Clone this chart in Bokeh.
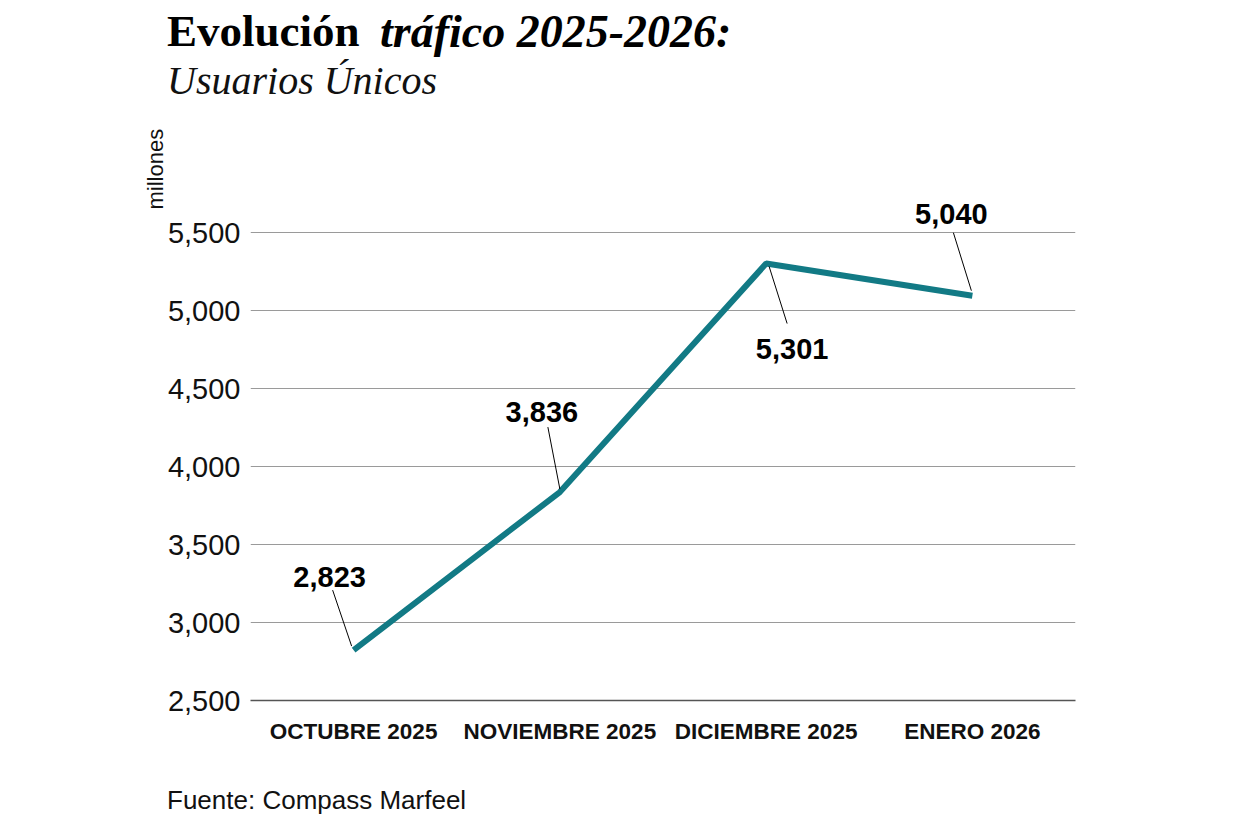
from bokeh.plotting import figure
from bokeh.models import Range1d, FixedTicker, NumeralTickFormatter, Title, ColumnDataSource, Div
from bokeh.layouts import column
from bokeh.core.properties import value
from bokeh.embed import file_html
from bokeh.resources import INLINE

# ---- data ----
months = ["OCTUBRE 2025", "NOVIEMBRE 2025", "DICIEMBRE 2025", "ENERO 2026"]
users = [2823, 3836, 5301, 5095]          # plotted positions (millones)
value_labels = ["2,823", "3,836", "5,301", "5,040"]
y_ticks = [2500, 3000, 3500, 4000, 4500, 5000, 5500]
title_main = "Evolución"
title_italic = "tráfico 2025-2026:"
subtitle = "Usuarios Únicos"
unit_label = "millones"
source_note = "Fuente: Compass Marfeel"

# ---- style: label / leader offsets in pixels (dx right, dy up) ----
lead_start = [(-2, 4), (0, 3), (3, -3), (-1, 5)]
lead_end = [(-21, 60), (-12, 65), (21, -60), (-19, 63)]
label_off = [(-24, 73), (-18, 80), (26, -85), (-21, 82)]

W = 1223
HEAD_H = 110
FOOT_H = 49
H = 829 - HEAD_H - FOOT_H
left, right, top = 250, 148, 193 - HEAD_H
bottom = H - top - 507
frame_w = W - left - right
frame_h = H - top - bottom
y0, y1 = 2500, 5750
x0, x1 = -0.5, len(months) - 0.5
px_x = frame_w / (x1 - x0)
px_y = frame_h / (y1 - y0)

xs = list(range(len(months)))

serif = "Liberation Serif"
sans = "Liberation Sans"

head = Div(width=W, height=HEAD_H, margin=0, text=(
    '<div style="position:relative;width:%dpx;height:%dpx;color:#000;">'
    '<span style="position:absolute;left:167px;top:9px;font-family:\'%s\';font-size:45px;'
    'font-weight:bold;line-height:1;white-space:nowrap;">%s</span>'
    '<span style="position:absolute;left:380px;top:9px;font-family:\'%s\';font-size:46px;'
    'font-weight:bold;font-style:italic;line-height:1;white-space:nowrap;">%s</span>'
    '<span style="position:absolute;left:167px;top:61px;font-family:\'%s\';font-size:40px;'
    'font-style:italic;line-height:1;white-space:nowrap;color:#111;">%s</span>'
    '</div>') % (W, HEAD_H, serif, title_main, serif, title_italic, serif, subtitle))

foot = Div(width=W, height=FOOT_H, margin=0, text=(
    '<div style="position:relative;width:%dpx;height:%dpx;color:#111;">'
    '<span style="position:absolute;left:167px;top:7px;font-family:\'%s\';font-size:26px;'
    'line-height:1;white-space:nowrap;">%s</span></div>') % (W, FOOT_H, sans, source_note))

p = figure(width=W, height=H, output_backend="svg", toolbar_location=None,
           x_range=Range1d(x0, x1), y_range=Range1d(y0, y1),
           min_border_left=left, min_border_right=right,
           min_border_top=top, min_border_bottom=bottom, margin=0)
p.outline_line_color = None
p.background_fill_color = "white"
p.border_fill_color = "white"

# axes
p.yaxis.ticker = FixedTicker(ticks=y_ticks)
p.yaxis.formatter = NumeralTickFormatter(format="0,0")
p.yaxis.axis_line_color = None
p.yaxis.major_tick_line_color = None
p.yaxis.major_tick_out = 0
p.yaxis.major_tick_in = 0
p.yaxis.minor_tick_line_color = None
p.yaxis.major_label_standoff = 10
p.yaxis.major_label_text_font = sans
p.yaxis.major_label_text_font_size = "29px"
p.yaxis.major_label_text_color = "#111111"

p.xaxis.ticker = FixedTicker(ticks=xs)
p.xaxis.major_label_overrides = {i: m for i, m in enumerate(months)}
p.xaxis.axis_line_color = "#555555"
p.xaxis.axis_line_width = 1.5
p.xaxis.major_tick_line_color = None
p.xaxis.major_tick_out = 0
p.xaxis.major_tick_in = 0
p.xaxis.minor_tick_line_color = None
p.xaxis.major_label_standoff = 18
p.xaxis.major_label_text_font = sans
p.xaxis.major_label_text_font_style = "bold"
p.xaxis.major_label_text_font_size = "22.5px"
p.xaxis.major_label_text_color = "#111111"

p.xgrid.grid_line_color = None
p.ygrid.ticker = FixedTicker(ticks=y_ticks)
p.ygrid.grid_line_color = "#9a9a9a"
p.ygrid.grid_line_width = 1

# line
p.line(xs, users, line_color="#127a85", line_width=6)

# leaders
lx0 = [x + s[0] / px_x for x, s in zip(xs, lead_start)]
ly0 = [y + s[1] / px_y for y, s in zip(users, lead_start)]
lx1 = [x + e[0] / px_x for x, e in zip(xs, lead_end)]
ly1 = [y + e[1] / px_y for y, e in zip(users, lead_end)]
p.segment(lx0, ly0, lx1, ly1, line_color="black", line_width=1)

# value labels
src = ColumnDataSource(dict(x=xs, y=users, t=value_labels,
                            dx=[o[0] for o in label_off],
                            dy=[-o[1] for o in label_off]))
p.text(x="x", y="y", text="t", x_offset="dx", y_offset="dy", source=src,
       text_font=value(sans), text_font_style="bold", text_font_size="29px",
       text_align="center", text_baseline="middle", text_color="black")

# unit label (left panel, vertical)
p.add_layout(Title(text=unit_label, align="left", offset=491, vertical_align="top",
                   standoff=-10, text_font=sans, text_font_style="normal",
                   text_font_size="22px", text_color="#111111"), "left")

layout = column(head, p, foot, spacing=0, margin=0)
open("out.html", "w").write(file_html(layout, INLINE))
